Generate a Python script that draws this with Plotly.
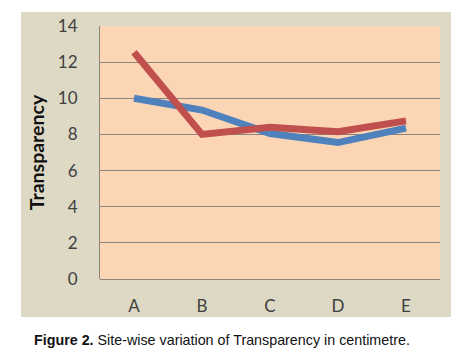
import plotly.graph_objects as go

categories = ["A", "B", "C", "D", "E"]
series_blue = [10.0, 9.35, 8.05, 7.55, 8.35]
series_red = [12.55, 8.0, 8.4, 8.15, 8.75]
y_ticks = [0, 2, 4, 6, 8, 10, 12, 14]

# page body margin offset (browser default 8px)
OFF = 8
PW, PH = 468, 355
W, H = PW - OFF, PH - OFF
# plot area in page pixels: x 100..440, y 26..279
L, R, T, B = 100 - OFF, 28, 26 - OFF, 76
pw, ph = 340, 253

def px_x(px):
    return (px - 100) / pw

def px_y(py):
    return (279 - py) / ph

fig = go.Figure()
fig.add_trace(go.Scatter(x=categories, y=series_blue, mode="lines",
                         line=dict(color="#4F81BD", width=7), showlegend=False))
fig.add_trace(go.Scatter(x=categories, y=series_red, mode="lines",
                         line=dict(color="#C0504D", width=7), showlegend=False))

fig.add_shape(type="rect", xref="paper", yref="paper", layer="below",
              x0=px_x(21), x1=px_x(451), y0=px_y(317), y1=px_y(12),
              fillcolor="#DDD9C4", line=dict(width=0))
fig.add_shape(type="rect", xref="paper", yref="paper", layer="below",
              x0=0, x1=1, y0=0, y1=1,
              fillcolor="#FCD5B4", line=dict(width=0))

fig.add_annotation(xref="paper", yref="paper", x=px_x(32), y=px_y(340),
                   xanchor="left", yanchor="middle", showarrow=False,
                   text="<b>Figure 2.</b> Site-wise variation of Transparency in centimetre.",
                   font=dict(family="Liberation Sans", size=14.3, color="#111111"))

fig.update_layout(
    width=W, height=H,
    margin=dict(l=L, r=R, t=T, b=B, autoexpand=False),
    paper_bgcolor="white",
    plot_bgcolor="rgba(0,0,0,0)",
    font=dict(family="Lato", color="#404040"),
    xaxis=dict(type="category", range=[-0.5, 4.5], showgrid=False,
               showline=False, zeroline=False,
               ticks="outside", ticklen=12, tickcolor="rgba(0,0,0,0)",
               tickfont=dict(size=17, color="#404040")),
    yaxis=dict(range=[0, 14], tickvals=y_ticks, showgrid=True,
               gridcolor="#8C8580", gridwidth=1,
               showline=True, linecolor="#8C8580", linewidth=1,
               zeroline=True, zerolinecolor="#8C8580", zerolinewidth=1,
               ticks="outside", ticklen=18, tickcolor="rgba(0,0,0,0)",
               tickfont=dict(size=17, color="#404040"),
               title=dict(text="<b>Transparency</b>", standoff=8,
                          font=dict(size=19.5, color="#111111"))),
)

fig.write_html("out.html")
